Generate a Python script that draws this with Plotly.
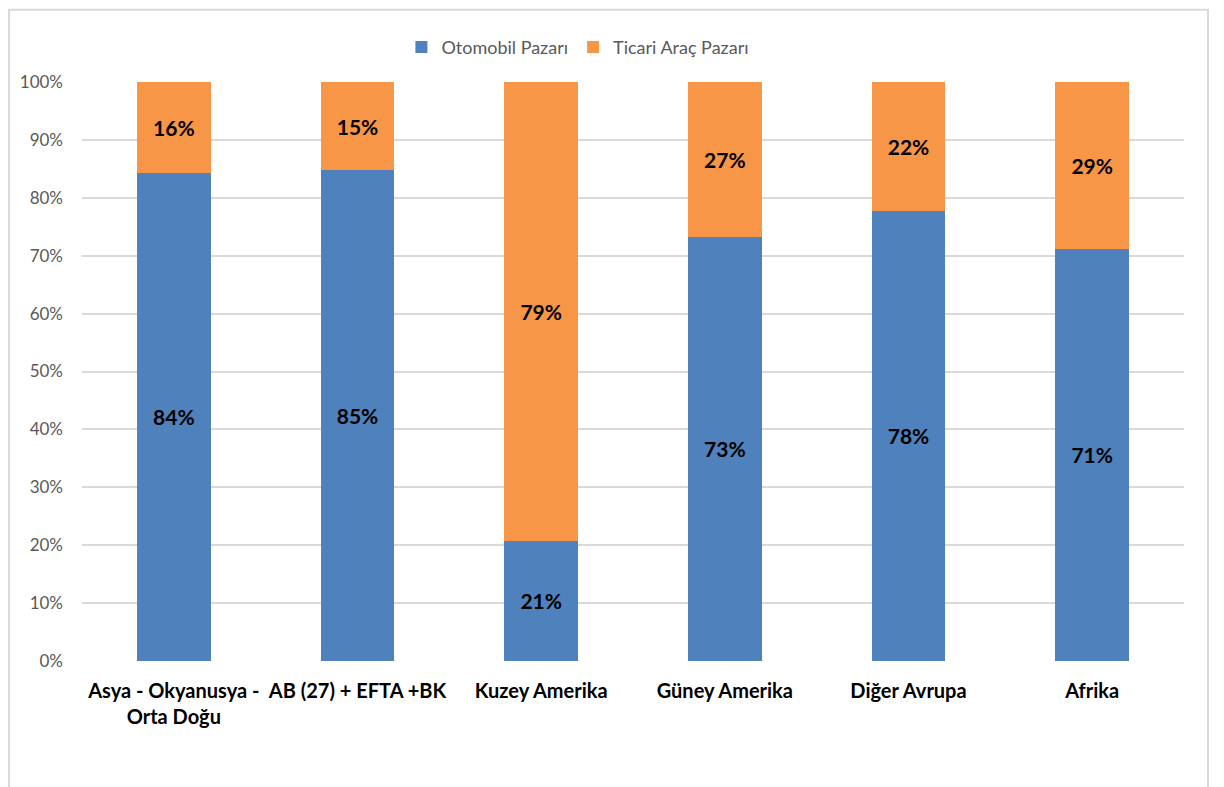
import plotly.graph_objects as go

regions = ["Asya - Okyanusya -<br>Orta Doğu", "AB (27) + EFTA +BK", "Kuzey Amerika",
           "Güney Amerika", "Diğer Avrupa", "Afrika"]
otomobil = [84.3, 84.8, 20.8, 73.3, 77.8, 71.2]
ticari = [15.7, 15.2, 79.2, 26.7, 22.2, 28.8]
y_ticks = [0, 10, 20, 30, 40, 50, 60, 70, 80, 90, 100]
y_labels = [f"{v}%" for v in y_ticks]

fig = go.Figure()

fig.add_trace(
    go.Bar(x=regions, y=otomobil, name="Otomobil Pazarı",
           marker=dict(color="#4f81bd", line=dict(width=0)),
           text=otomobil, texttemplate="%{y:.0f}%", textposition="inside",
           insidetextanchor="middle", textangle=0,
           textfont=dict(family="Lato", size=21, color="black", weight="bold"))
)
fig.add_trace(
    go.Bar(x=regions, y=ticari, name="Ticari Araç Pazarı",
           marker=dict(color="#f79646", line=dict(width=0)),
           text=ticari, texttemplate="%{y:.0f}%", textposition="inside",
           insidetextanchor="middle", textangle=0,
           textfont=dict(family="Lato", size=21, color="black", weight="bold"))
)

# page has an 8px body margin, so figure is 8px smaller and shifted
fig.update_layout(
    barmode="stack",
    bargap=0.6,
    width=1216, height=779,
    margin=dict(l=74, r=40, t=74, b=126),
    paper_bgcolor="white", plot_bgcolor="white",
    font=dict(family="Lato", color="#595959"),
    legend=dict(orientation="h", x=0.45, xanchor="center", y=1.06, yanchor="middle",
                font=dict(size=18, color="#595959"), traceorder="normal",
                itemwidth=30),
    showlegend=True,
)
fig.update_xaxes(showgrid=False, showline=False, ticks="", ticklabelstandoff=16,
                 tickfont=dict(family="Lato", size=20, color="black", weight="bold"))
fig.update_yaxes(range=[0, 100], tickvals=y_ticks, ticktext=y_labels,
                 showgrid=True, gridcolor="#d9d9d9", gridwidth=1.5, zeroline=False,
                 showline=False, ticks="", ticklabelstandoff=18,
                 tickfont=dict(family="Lato", size=17, color="#595959"))

# outer chart border
fig.add_shape(type="rect", xref="paper", yref="paper",
              x0=-0.0662, x1=1.0218, y0=-0.25, y1=1.125,
              line=dict(color="#d9d9d9", width=2), layer="below")

fig.write_html("out.html")
